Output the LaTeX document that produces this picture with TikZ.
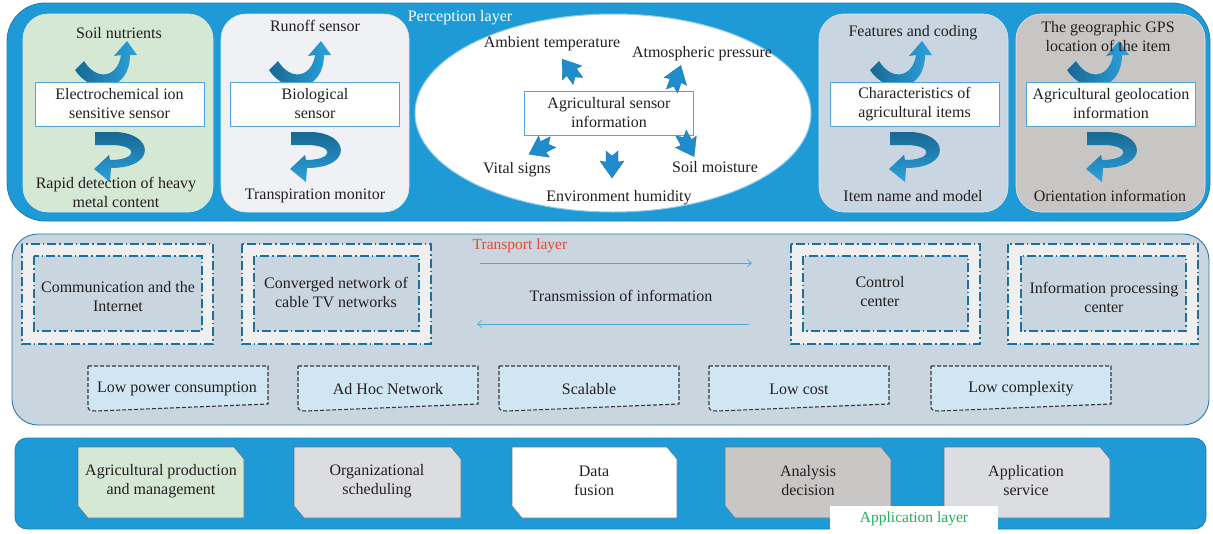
\documentclass[tikz,border=0pt]{standalone}
\usepackage{fontspec}
\setmainfont{Liberation Serif}
\usetikzlibrary{arrows.meta,shapes.geometric}
\definecolor{layerblue}{RGB}{30,155,215}
\definecolor{layeredge}{RGB}{40,120,170}
\definecolor{greenbox}{RGB}{213,232,212}
\definecolor{lightbox}{RGB}{240,241,244}
\definecolor{slatebox}{RGB}{201,213,224}
\definecolor{greybox}{RGB}{200,198,197}
\definecolor{txt}{RGB}{35,31,32}
\definecolor{boxedge}{RGB}{79,168,216}
\definecolor{arrdark}{RGB}{24,104,146}
\definecolor{arrlight}{RGB}{44,162,222}
\definecolor{transbg}{RGB}{201,214,224}
\definecolor{transedge}{RGB}{44,124,170}
\definecolor{dashblue}{RGB}{31,111,154}
\definecolor{ringfill}{RGB}{239,239,239}
\definecolor{docfill}{RGB}{208,230,243}
\definecolor{docedge}{RGB}{55,55,55}
\definecolor{redlabel}{RGB}{232,72,47}
\definecolor{greenlabel}{RGB}{31,175,90}
\definecolor{appgrey}{RGB}{220,221,224}
\definecolor{appdark}{RGB}{200,199,198}
\definecolor{appedge}{RGB}{90,120,145}
\definecolor{blkfill}{RGB}{30,140,205}
\newcommand{\curvup}[1]{%
  \begin{scope}[shift={(#1,0)}]
    \shade[left color=arrdark,right color=arrlight]
      (75,70) .. controls (93,97) and (130,91) .. (130,55) -- (137,55) -- (127,41) -- (114,56) -- (121,55)
      .. controls (118,77) and (97,82) .. (84,61) -- cycle;
  \end{scope}}
\newcommand{\curvdown}[1]{%
  \begin{scope}[shift={(#1,0)}]
    \shade[top color=arrdark,bottom color=arrlight]
      (95,132) -- (115,132) .. controls (154,133) and (157,168) .. (111,168) -- (110,182) -- (94,169)
      -- (109,155) -- (110,160) .. controls (137,160) and (139,146) .. (113,145) -- (95,145) -- cycle;
  \end{scope}}
\newcommand{\blk}[3]{%
  \begin{scope}[shift={(#1,#2)},rotate=#3]
    \fill[blkfill,draw=blkfill!80!black,line width=0.3pt]
      (0,6) -- (5,0) -- (0,-6) -- (11,-6) -- (10,-12) -- (27,0) -- (10,12) -- (11,6) -- cycle;
  \end{scope}}
\newcommand{\docshape}[2]{%
  \filldraw[fill=docfill,draw=docedge,line width=1.1pt,dash pattern=on 4pt off 2pt]
    (#1,366) -- (#2,366) -- (#2,404) -- ({#1+8},411) .. controls ({#1+3},411) and (#1,410) .. (#1,407) -- cycle;}
\newcommand{\snip}[3]{%
  \filldraw[fill=#3,draw=appedge,line width=0.6pt]
    (#1,447) -- ({#2-10},447) -- (#2,459) -- (#2,518) -- ({#1+10},518) -- (#1,506) -- cycle;}
\begin{document}
\begin{tikzpicture}[x=1pt,y=-1pt,
  lbl/.style={font=\fontsize{16}{19}\selectfont, text=txt, align=center, inner sep=0pt},
  inbox/.style={lbl, draw=boxedge, line width=1pt, fill=white, minimum width=169pt, minimum height=44pt},
  panel/.style={draw=white!80!gray, line width=0.6pt, rounded corners=25pt},
  dashring/.style={draw=dashblue, line width=1.3pt, dash pattern=on 9pt off 3pt on 1.6pt off 3pt},
  thinarr/.style={draw=boxedge, line width=0.7pt, -{Straight Barb[length=4pt,width=7pt]}}]
\useasboundingbox (0,0) rectangle (1213,533);
% ---------------- Perception layer
\filldraw[fill=layerblue, draw=layeredge, line width=0.8pt, rounded corners=38pt] (7,3) rectangle (1210,221);
\node[font=\fontsize{16}{18}\selectfont, text=white, inner sep=0pt] (perc) at (460,18) {Perception layer};
\filldraw[panel, fill=greenbox] (23,14) rectangle (213,212);
\filldraw[panel, fill=lightbox] (221,14) rectangle (409,212);
\filldraw[panel, fill=slatebox] (819,14) rectangle (1008,212);
\filldraw[panel, fill=greybox] (1016,14) rectangle (1205,212);
\node[draw=boxedge!60, line width=1pt, fill=white, ellipse, minimum width=396pt, minimum height=198pt, inner sep=0pt] (ell) at (613,113) {};
% curved arrows
\curvup{0}\curvup{194}\curvup{795}\curvup{992}
\curvdown{0}\curvdown{196}\curvdown{795}\curvdown{992}
% sensor boxes
\node[inbox] (s1) at (119.5,104) {Electrochemical ion\\sensitive sensor};
\node[inbox] (s2) at (315,104) {Biological\\sensor};
\node[inbox] (s3) at (609,113) {Agricultural sensor\\information};
\node[inbox] (s4) at (914.5,104) {Characteristics of\\agricultural items};
\node[inbox] (s5) at (1111,104) {Agricultural geolocation\\information};
\node[lbl] (t1) at (119,33) {Soil nutrients};
\node[lbl] (b1) at (116,192) {Rapid detection of heavy\\metal content};
\node[lbl] (t2) at (315,26) {Runoff sensor};
\node[lbl] (b2) at (315,196) {Transpiration monitor};
\node[lbl] (t4) at (913,33) {Features and coding};
\node[lbl] (b4) at (913,196) {Item name and model};
\node[lbl] (t5) at (1108,37) {The geographic GPS\\location of the item};
\node[lbl] (b5) at (1110,196) {Orientation information};
% ellipse contents
\node[lbl] (e1) at (552,44) {Ambient temperature};
\node[lbl] (e2) at (702,54) {Atmospheric pressure};
\node[lbl] (e3) at (517,170) {Vital signs};
\node[lbl] (e4) at (619,198) {Environment humidity};
\node[lbl] (e5) at (715,167) {Soil moisture};
\blk{578}{81}{126}
\blk{672}{91}{71}
\blk{553}{142}{-153}
\blk{612}{151}{-90}
\blk{681}{133}{-61}
% ---------------- Transport layer
\filldraw[fill=transbg, draw=transedge, line width=0.9pt, rounded corners=26pt] (12,234) rectangle (1209,425);
\node[font=\fontsize{15.5}{18}\selectfont, text=redlabel, inner sep=0pt] (trl) at (520,246) {Transport layer};
\foreach \xa/\xb/\xc/\xd in {22/213/34/202, 242/431/254/419, 791/980/803/968, 1008/1198/1021/1186}{
  \filldraw[dashring, fill=ringfill] (\xa,244) rectangle (\xb,344);
  \filldraw[dashring, fill=transbg] (\xc,256) rectangle (\xd,331);
}
\node[lbl] (n1) at (118,297) {Communication and the\\Internet};
\node[lbl] (n2) at (336,292) {Converged network of\\cable TV networks};
\node[lbl] (n3) at (880,292) {Control\\center};
\node[lbl] (n4) at (1104,297) {Information processing\\center};
\coordinate (ra) at (480,263);
\coordinate (rb) at (752,263);
\coordinate (la) at (749,324);
\coordinate (lb) at (477,324);
\draw[thinarr] (ra) -- (rb);
\draw[thinarr] (la) -- (lb);
\node[lbl] (tm) at (621,296) {Transmission of information};
\docshape{88}{268}\docshape{298}{478}\docshape{499}{679}\docshape{709}{889}\docshape{931}{1111}
\node[lbl] (d1) at (177,389) {Low power consumption};
\node[lbl] (d2) at (388,389) {Ad Hoc Network};
\node[lbl] (d3) at (589,389) {Scalable};
\node[lbl] (d4) at (799,389) {Low cost};
\node[lbl] (d5) at (1021,389) {Low complexity};
% ---------------- Application layer
\filldraw[fill=layerblue, draw=layeredge, line width=0.8pt, rounded corners=12pt] (15,438) rectangle (1206,529);
\snip{78}{244}{greenbox}
\snip{294}{461}{appgrey}
\snip{512}{677}{white}
\snip{725}{891}{appdark}
\snip{944}{1110}{appgrey}
\node[lbl] (a1) at (161,481) {Agricultural production\\and management};
\node[lbl] (a2) at (377,481) {Organizational\\scheduling};
\node[lbl] (a3) at (594,481) {Data\\fusion};
\node[lbl] (a4) at (808,481) {Analysis\\decision};
\node[lbl] (a5) at (1026,481) {Application\\service};
\node[fill=white, minimum width=168pt, minimum height=25pt, inner sep=0pt, text=greenlabel, font=\fontsize{15.5}{18}\selectfont] (appl) at (914,518.5) {Application layer};
\end{tikzpicture}
\end{document}
